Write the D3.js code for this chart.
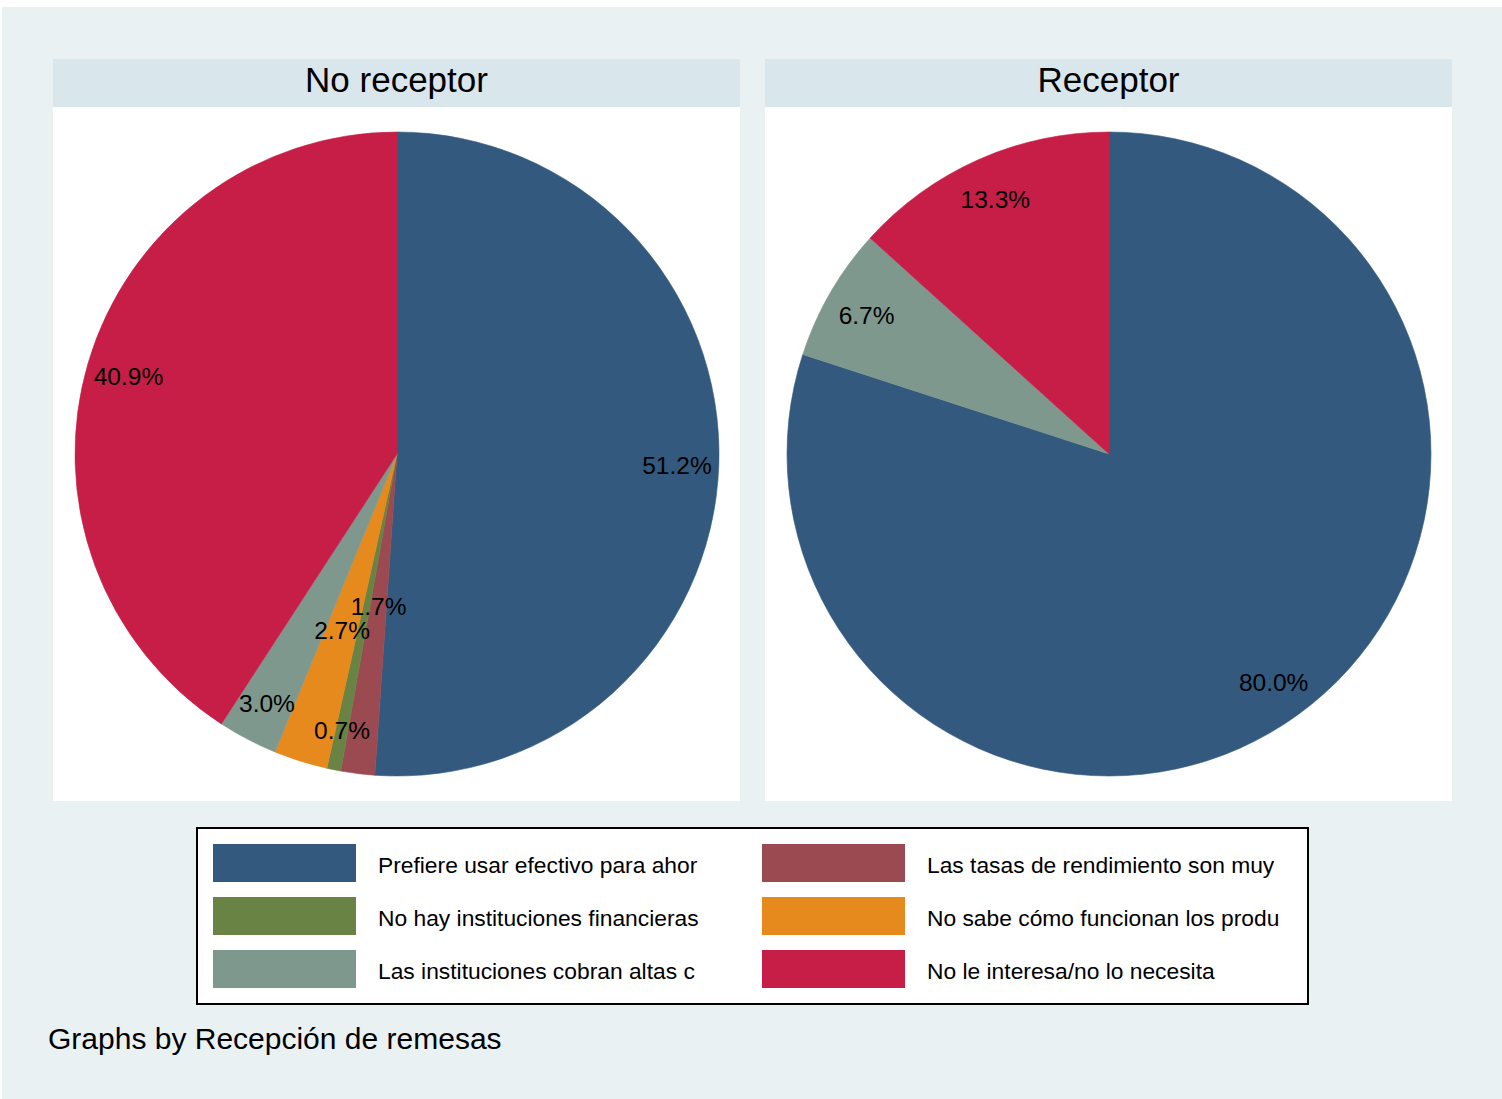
<!DOCTYPE html>
<html>
<head>
<meta charset="utf-8">
<script src="https://cdn.jsdelivr.net/npm/d3@7"></script>
<style>
  html, body { margin: 0; padding: 0; background: #ffffff; }
  svg { display: block; font-family: "Liberation Sans", Arial, sans-serif; }
</style>
</head>
<body>
<svg id="chart" width="1502" height="1099"></svg>
<script>
// ---- Data ----
const categories = [
  "Prefiere usar efectivo para ahor",
  "Las tasas de rendimiento son muy",
  "No hay instituciones financieras",
  "No sabe cómo funcionan los produ",
  "Las instituciones cobran altas c",
  "No le interesa/no lo necesita"
];
const panels = ["No receptor", "Receptor"];
const noReceptorValues = [51.2, 1.7, 0.7, 2.7, 3.0, 40.9];
const receptorValues   = [80.0, 0, 0, 0, 6.7, 13.3];
const noReceptorLabels = ["51.2%", "1.7%", "0.7%", "2.7%", "3.0%", "40.9%"];
const receptorLabels   = ["80.0%", "", "", "", "6.7%", "13.3%"];
const colors = ["#335A7E", "#9A4A50", "#688343", "#E68A1D", "#7F988E", "#C61E46"];
const caption = "Graphs by Recepción de remesas";

// label distance (fraction of radius) per slice, for layout only
const noReceptorLabelR = [0.87, 0.47, 0.87, 0.57, 0.87, 0.87];
const receptorLabelR   = [0.87, 0.87, 0.87, 0.87, 0.87, 0.87];

const svg = d3.select("#chart");

// Outer background
svg.append("rect").attr("x", 2).attr("y", 7).attr("width", 1500).attr("height", 1092)
  .attr("fill", "#E9F1F3");

const panelDefs = [
  { title: panels[0], values: noReceptorValues, labels: noReceptorLabels, lr: noReceptorLabelR, x0: 53 },
  { title: panels[1], values: receptorValues, labels: receptorLabels, lr: receptorLabelR, x0: 765 }
];
const panelW = 687, headerY = 59, headerH = 48, plotBottom = 801;
const radius = 322;

const pie = d3.pie().sort(null).value(d => d.v).startAngle(0).endAngle(2 * Math.PI);
const arc = d3.arc().innerRadius(0).outerRadius(radius);

panelDefs.forEach(p => {
  const g = svg.append("g");
  g.append("rect").attr("x", p.x0).attr("y", headerY).attr("width", panelW).attr("height", headerH)
    .attr("fill", "#D9E6EC");
  g.append("rect").attr("x", p.x0).attr("y", headerY + headerH).attr("width", panelW)
    .attr("height", plotBottom - headerY - headerH).attr("fill", "#ffffff");
  g.append("text").attr("x", p.x0 + panelW / 2).attr("y", headerY + 33)
    .attr("text-anchor", "middle").attr("font-size", 35).attr("fill", "#000")
    .text(p.title);

  const cx = p.x0 + panelW / 2 + 0.5, cy = 454;
  const data = p.values.map((v, i) => ({ v, i, label: p.labels[i], lr: p.lr[i] }));
  const arcs = pie(data);
  const pg = g.append("g").attr("transform", `translate(${cx},${cy})`);
  pg.selectAll("path").data(arcs.filter(a => a.data.v > 0)).join("path")
    .attr("d", arc)
    .attr("fill", a => colors[a.data.i])
    .attr("stroke", a => colors[a.data.i])
    .attr("stroke-width", 0.6);
  pg.selectAll("text").data(arcs.filter(a => a.data.v > 0 && a.data.label)).join("text")
    .attr("x", a => Math.sin((a.startAngle + a.endAngle) / 2) * radius * a.data.lr)
    .attr("y", a => -Math.cos((a.startAngle + a.endAngle) / 2) * radius * a.data.lr + 1.5)
    .attr("text-anchor", "middle").attr("dy", "0.36em")
    .attr("font-size", 24.5).attr("fill", "#000")
    .text(a => a.data.label);
});

// Legend
const lg = svg.append("g");
lg.append("rect").attr("x", 197).attr("y", 828).attr("width", 1111).attr("height", 176)
  .attr("fill", "#ffffff").attr("stroke", "#000").attr("stroke-width", 2);
const colX = [213, 762], rowY = [844, 897, 950];
categories.forEach((c, i) => {
  const col = i % 2, row = Math.floor(i / 2);
  lg.append("rect").attr("x", colX[col]).attr("y", rowY[row]).attr("width", 143).attr("height", 38)
    .attr("fill", colors[i]);
  lg.append("text").attr("x", colX[col] + 165).attr("y", rowY[row] + 21).attr("dy", "0.36em")
    .attr("font-size", 22.8).attr("fill", "#000").text(c);
});

// Caption
svg.append("text").attr("x", 48).attr("y", 1049).attr("font-size", 30).attr("fill", "#000")
  .text(caption);
</script>
</body>
</html>
